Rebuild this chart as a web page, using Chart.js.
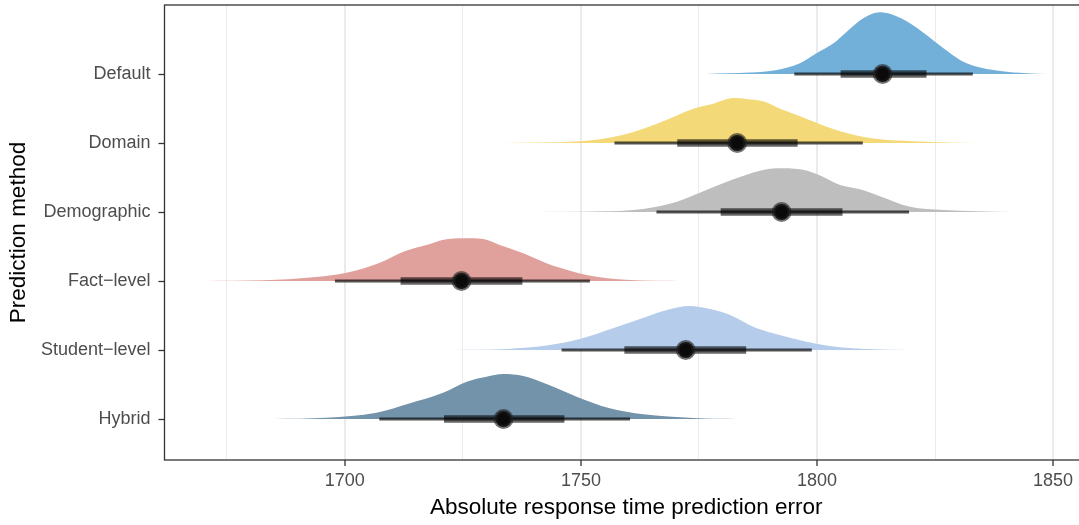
<!DOCTYPE html>
<html>
<head>
<meta charset="utf-8">
<title>Absolute response time prediction error by method</title>
<script src="https://cdn.jsdelivr.net/npm/chart.js@4.4.1/dist/chart.umd.min.js"></script>
<style>
  html, body { margin: 0; padding: 0; background: #fff; overflow: hidden; }
  #wrap { width: 1088px; height: 525px; }
</style>
</head>
<body>
<div id="wrap"><canvas id="errorChart" width="1088" height="525"></canvas></div>
<script>
// prediction methods, top to bottom, and their row on the y scale
const methods = ["Default", "Domain", "Demographic", "Fact−level", "Student−level", "Hybrid"];
const rowPos = [6, 5, 4, 3, 2, 1];

// posterior summaries: median, 66% and 95% intervals
const medians = [1813.9, 1783.1, 1792.5, 1724.7, 1772.2, 1733.6];
const interval66 = [[1805.0, 1823.2], [1770.4, 1795.9], [1779.6, 1805.4], [1711.8, 1737.6], [1759.2, 1785.0], [1721.0, 1746.5]];
const interval95 = [[1795.2, 1833.0], [1757.1, 1809.7], [1766.0, 1819.5], [1697.9, 1751.9], [1745.9, 1798.9], [1707.3, 1760.4]];

// density slabs: [error, height in row units]
const densDefault = [[1776.6, 0], [1785.8, 0.02], [1791.5, 0.058], [1796.4, 0.155], [1799.9, 0.30], [1803.5, 0.445], [1806.3, 0.613], [1809.8, 0.807], [1813.3, 0.894], [1816.2, 0.855], [1819.7, 0.735], [1823.2, 0.565], [1826.8, 0.372], [1830.3, 0.203], [1833.1, 0.12], [1838.8, 0.043], [1844.4, 0.01], [1848.7, 0]];
const densDomain = [[1732.8, 0], [1749.8, 0.025], [1757.6, 0.097], [1763.2, 0.207], [1768.2, 0.338], [1773.8, 0.497], [1778.0, 0.57], [1782.3, 0.652], [1785.1, 0.638], [1788.6, 0.604], [1792.2, 0.497], [1796.4, 0.387], [1802.8, 0.217], [1807.7, 0.12], [1811.5, 0.07], [1817.3, 0.035], [1825.7, 0.01], [1834.1, 0]];
const densDemographic = [[1730.0, 0], [1749.8, 0.005], [1761.1, 0.029], [1766.0, 0.077], [1770.3, 0.149], [1775.2, 0.28], [1782.3, 0.474], [1787.9, 0.599], [1791.5, 0.633], [1796.4, 0.619], [1799.9, 0.551], [1804.9, 0.391], [1809.1, 0.329], [1813.3, 0.23], [1819.7, 0.077], [1826.8, 0.029], [1833.8, 0.01], [1842.0, 0]];
const densFact = [[1670.7, 0], [1682.7, 0.01], [1693.3, 0.054], [1700.4, 0.12], [1707.4, 0.265], [1712.4, 0.425], [1717.3, 0.522], [1721.5, 0.604], [1725.1, 0.619], [1729.3, 0.609], [1732.8, 0.522], [1737.8, 0.401], [1742.7, 0.257], [1748.4, 0.135], [1754.0, 0.054], [1760.4, 0.014], [1771.0, 0]];
const densStudent = [[1722.9, 0], [1734.3, 0.014], [1743.4, 0.072], [1749.8, 0.159], [1756.8, 0.314], [1763.9, 0.483], [1768.2, 0.58], [1773.1, 0.638], [1776.6, 0.604], [1781.6, 0.507], [1786.5, 0.338], [1790.7, 0.242], [1797.8, 0.12], [1804.9, 0.039], [1811.9, 0.01], [1819.7, 0]];
const densHybrid = [[1684.8, 0], [1696.1, 0.019], [1706.7, 0.091], [1713.8, 0.228], [1720.8, 0.381], [1725.8, 0.541], [1730.0, 0.613], [1733.5, 0.652], [1737.8, 0.623], [1742.7, 0.507], [1749.1, 0.323], [1756.1, 0.155], [1763.2, 0.068], [1773.8, 0.014], [1783.0, 0]];
const densities = [densDefault, densDomain, densDemographic, densFact, densStudent, densHybrid];

// x axis ticks
const xGridValues = [1675, 1700, 1725, 1750, 1775, 1800, 1825, 1850];
const xTickLabels = [1700, 1750, 1800, 1850];

const slabColors = ["#72B0DA", "#F3D978", "#BEBEBE", "#E0A19D", "#B5CCEA", "#7393AA"];
const FONT = "'Liberation Sans', Arial, Helvetica, sans-serif";

const datasets = [];

// median points on top
datasets.push({
    type: "scatter",
    data: medians.map((m, i) => ({ x: m, y: rowPos[i] })),
    pointRadius: 8,
    pointBorderWidth: 4,
    pointBackgroundColor: "#0a0a0a",
    pointBorderColor: "rgba(30, 30, 30, 0.62)",
    order: 0
});

// interval bars: thick 66%, thin 95%
methods.forEach((name, i) => {
    datasets.push({
        type: "line",
        data: interval66[i].map(v => ({ x: v, y: rowPos[i] })),
        borderColor: "rgba(0, 0, 0, 0.6)",
        borderWidth: 7.5,
        borderCapStyle: "butt",
        pointRadius: 0,
        fill: false,
        order: 1
    });
    datasets.push({
        type: "line",
        data: interval95[i].map(v => ({ x: v, y: rowPos[i] })),
        borderColor: "rgba(0, 0, 0, 0.68)",
        borderWidth: 3,
        borderCapStyle: "butt",
        pointRadius: 0,
        fill: false,
        order: 2
    });
});

// density slabs, filled down to each row's baseline
methods.forEach((name, i) => {
    datasets.push({
        type: "line",
        label: name,
        data: densities[i].map(([v, h]) => ({ x: v, y: rowPos[i] + h })),
        borderWidth: 0,
        borderColor: "rgba(0,0,0,0)",
        backgroundColor: slabColors[i],
        pointRadius: 0,
        cubicInterpolationMode: "monotone",
        fill: { value: rowPos[i] },
        order: 3
    });
});

// theme_bw style box round the panel
const panelBorder = {
    id: "panelBorder",
    afterDraw(chart) {
        const { ctx, chartArea: a } = chart;
        ctx.save();
        ctx.strokeStyle = "#333333";
        ctx.lineWidth = 1.3;
        ctx.strokeRect(a.left, a.top, a.right - a.left, a.bottom - a.top);
        ctx.restore();
    }
};

new Chart(document.getElementById("errorChart"), {
    type: "line",
    data: { datasets },
    plugins: [panelBorder],
    options: {
        responsive: false,
        animation: false,
        devicePixelRatio: 1,
        layout: { autoPadding: false, padding: { top: 5, left: 0, right: 0, bottom: 0 } },
        plugins: {
            legend: { display: false },
            tooltip: { enabled: false }
        },
        scales: {
            x: {
                type: "linear",
                min: 1661.8,
                max: 1857.4,
                afterBuildTicks: scale => { scale.ticks = xGridValues.map(v => ({ value: v })); },
                afterFit: scale => {
                    scale.height = 65;
                    scale.paddingLeft = 0;
                    scale.paddingRight = 0;
                },
                border: { display: false },
                grid: {
                    color: "#EBEBEB",
                    lineWidth: c => (xTickLabels.includes(c.tick && c.tick.value) ? 2 : 1),
                    drawTicks: true,
                    tickLength: 6,
                    tickWidth: 1.3,
                    tickColor: c => (xTickLabels.includes(c.tick && c.tick.value) ? "#333333" : "rgba(0,0,0,0)")
                },
                ticks: {
                    autoSkip: false,
                    maxRotation: 0,
                    padding: 4,
                    color: "#4D4D4D",
                    font: { family: FONT, size: 18 },
                    callback: v => (xTickLabels.includes(v) ? String(v) : "")
                },
                title: {
                    display: true,
                    text: "Absolute response time prediction error",
                    color: "#000000",
                    font: { family: FONT, size: 22.5 },
                    padding: { top: 0, bottom: 4 }
                }
            },
            y: {
                type: "linear",
                min: 0.406,
                max: 7.0,
                afterBuildTicks: scale => { scale.ticks = rowPos.map(v => ({ value: v })); },
                afterFit: scale => {
                    scale.width = 164.5;
                    scale.paddingTop = 0;
                    scale.paddingBottom = 0;
                },
                border: { display: false },
                grid: {
                    drawOnChartArea: false,
                    drawTicks: true,
                    tickLength: 6,
                    tickWidth: 1.3,
                    tickColor: "#333333"
                },
                ticks: {
                    autoSkip: false,
                    padding: 8,
                    color: "#4D4D4D",
                    font: { family: FONT, size: 18 },
                    callback: v => methods[rowPos.indexOf(v)]
                },
                title: {
                    display: true,
                    text: "Prediction method",
                    color: "#000000",
                    font: { family: FONT, size: 22.5 },
                    padding: { top: 5, bottom: 0 }
                }
            }
        }
    }
});
</script>
</body>
</html>
